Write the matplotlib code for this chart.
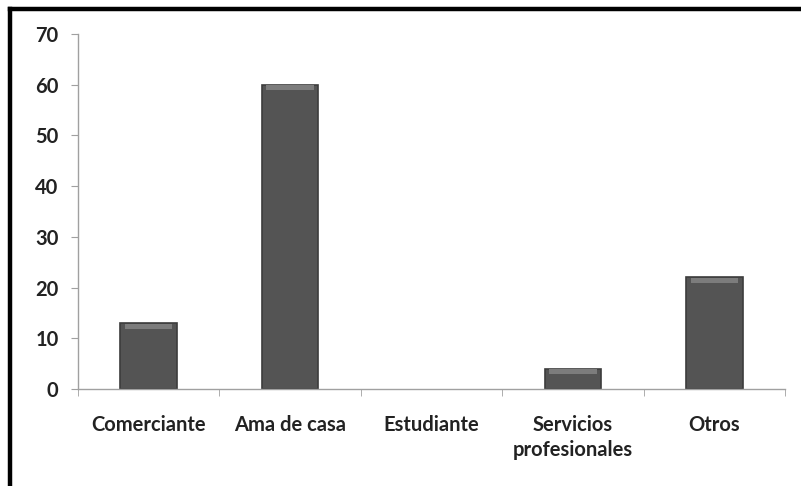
import matplotlib
matplotlib.use("Agg")
import matplotlib.pyplot as plt
import numpy as np
from matplotlib.lines import Line2D

categories = ["Comerciante", "Ama de casa", "Estudiante", "Servicios\nprofesionales", "Otros"]
values = [13, 60, 0, 4, 22]
yticks = [0, 10, 20, 30, 40, 50, 60, 70]

plt.rcParams["font.family"] = ["Lato", "DejaVu Sans"]


def main():
    fig = plt.figure(figsize=(8.01, 4.86), dpi=100)
    ax = fig.add_axes([0.0974, 0.1996, 0.8826, 0.7304])

    x = np.arange(len(categories))
    width = 0.4
    edges = ["#3c3c3c" if v > 0 else "none" for v in values]
    ax.bar(x, values, width=width, color="#545454", edgecolor=edges, linewidth=1.2, zorder=2)
    # light bevel at the top of each bar
    bev = [min(v, 1.0) for v in values]
    ax.bar(x, bev, width=width * 0.84, bottom=[v - b - 0.1 for v, b in zip(values, bev)],
           color="#7c7c7c", linewidth=0, zorder=3)

    ax.set_xlim(-0.5, len(categories) - 0.5)
    ax.set_ylim(0, 70)
    ax.set_yticks(yticks)
    ax.set_xticks(x)
    ax.set_xticklabels(categories, fontsize=14.5, fontweight="bold", color="#222222", linespacing=1.3)
    ax.set_xticks(np.arange(len(categories) + 1) - 0.5, minor=True)
    ax.tick_params(axis="x", which="major", length=0, pad=19)
    ax.tick_params(axis="x", which="minor", length=5, color="#a0a0a0", direction="out")
    ax.tick_params(axis="y", length=5, color="#a0a0a0", direction="out", pad=9,
                   labelsize=14.5, labelcolor="#222222")
    for lab in ax.get_yticklabels():
        lab.set_fontweight("bold")

    for s in ["top", "right"]:
        ax.spines[s].set_visible(False)
    for s in ["left", "bottom"]:
        ax.spines[s].set_color("#a0a0a0")
        ax.spines[s].set_linewidth(1.0)

    # outer frame (top and left only)
    fig.add_artist(Line2D([10 / 801, 1.0], [1 - 9 / 486, 1 - 9 / 486], color="black", linewidth=3.2,
                          transform=fig.transFigure))
    fig.add_artist(Line2D([10 / 801, 10 / 801], [0.0, 1 - 9 / 486], color="black", linewidth=3.2,
                          transform=fig.transFigure))

    fig.savefig("out.png", dpi=100)


if __name__ == "__main__":
    main()
